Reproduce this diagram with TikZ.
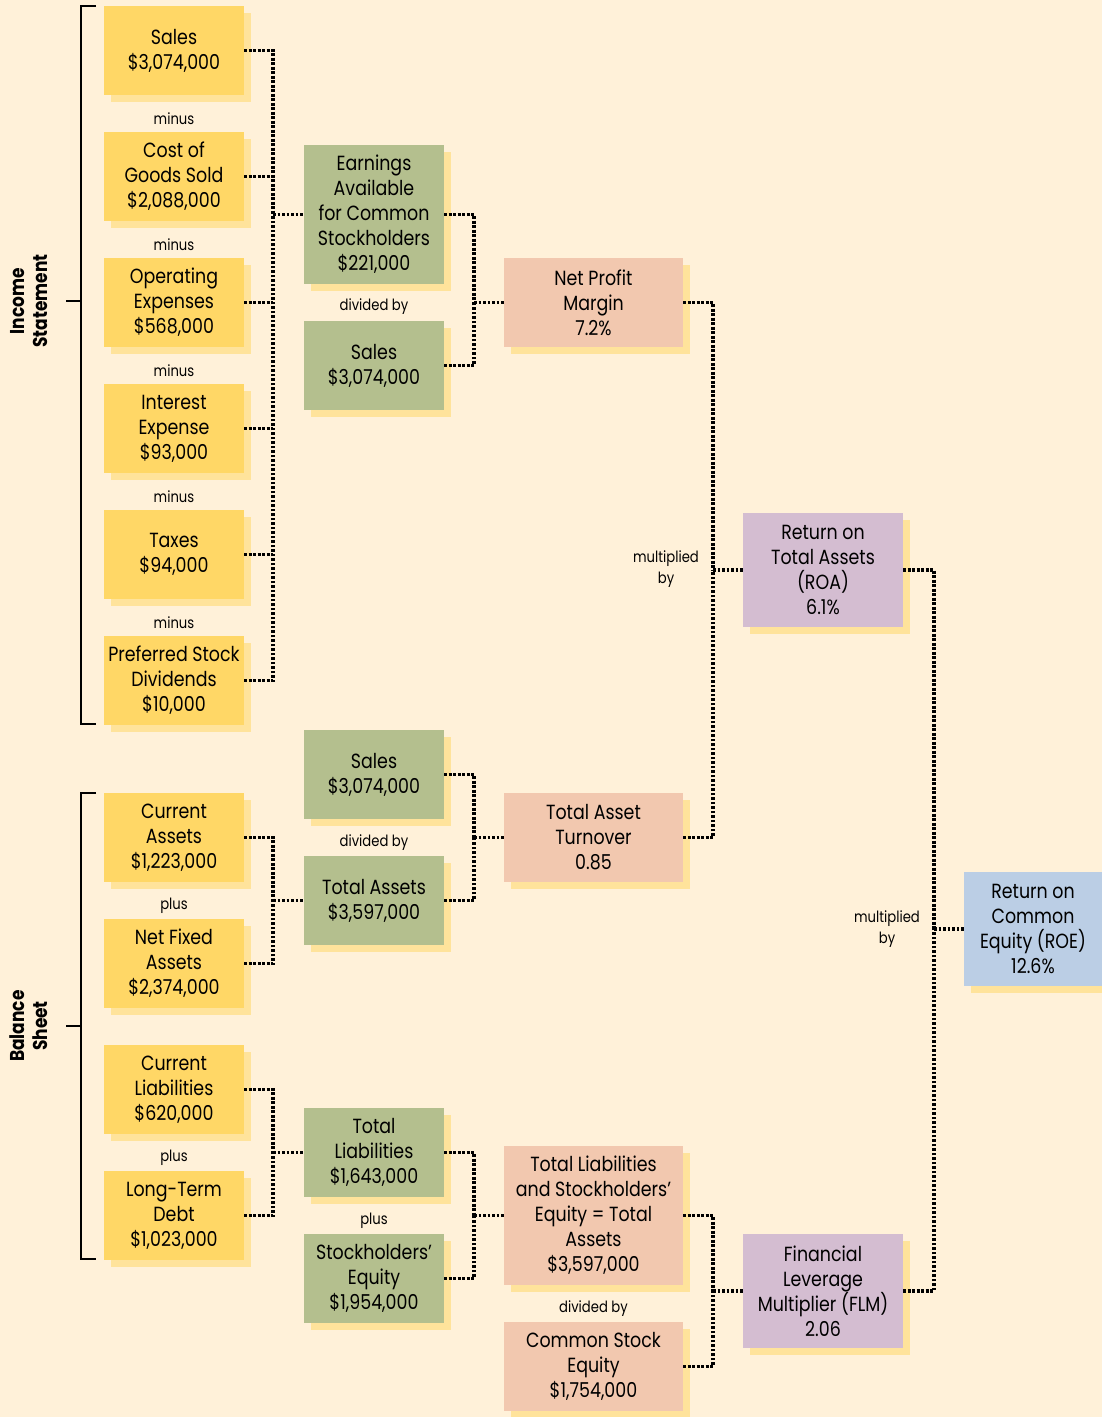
\documentclass[tikz,border=0pt]{standalone}
\usepackage{fontspec}
\setmainfont{Poppins}[FakeStretch=0.85]
\usetikzlibrary{shadows}
\definecolor{bgcream}{HTML}{FFF1D9}
\definecolor{boxyel}{HTML}{FFD766}
\definecolor{shyel}{HTML}{FFE39B}
\definecolor{boxgrn}{HTML}{B4BF8E}
\definecolor{boxsal}{HTML}{F2C8AF}
\definecolor{boxpur}{HTML}{D4BDD1}
\definecolor{boxblu}{HTML}{BBCEE5}

\begin{document}
\begin{tikzpicture}[x=1pt,y=-1pt,
    box/.style   = {inner sep=0pt, align=center,
      font=\fontsize{20.5}{25}\selectfont,
      drop shadow={fill=shyel, opacity=1,
        shadow xshift=7pt, shadow yshift=-7pt}},
    ybox/.style  = {box, fill=boxyel, minimum width=140pt, minimum height=89pt},
    gbox/.style  = {box, fill=boxgrn, minimum width=140pt, minimum height=89pt},
    sbox/.style  = {box, fill=boxsal, minimum width=179pt, minimum height=89pt},
    pbox/.style  = {box, fill=boxpur, minimum width=160pt, minimum height=114pt},
    bbox/.style  = {box, fill=boxblu, minimum width=138pt, minimum height=114pt},
    oplabel/.style = {inner sep=0pt, align=center, font=\fontsize{15.5}{21}\selectfont},
    sidelabel/.style = {inner sep=0pt, align=center, rotate=90,
      font=\fontsize{20}{23}\selectfont\bfseries},
    dotline/.style = {line width=3.4pt, dash pattern=on 2.8pt off 1.7pt},
    bracket/.style = {line width=1.1pt},
  ]
  \useasboundingbox[fill=bgcream] (0,0) rectangle (1102,1417);

  % income statement column
  \node[ybox] (sales)   at (174,50.5)  {Sales\\\$3,074,000};
  \node[ybox] (cogs)    at (174,176.5) {Cost of\\Goods Sold\\\$2,088,000};
  \node[ybox] (opex)    at (174,302.5) {Operating\\Expenses\\\$568,000};
  \node[ybox] (intexp)  at (174,428.5) {Interest\\Expense\\\$93,000};
  \node[ybox] (taxes)   at (174,554.5) {Taxes\\\$94,000};
  \node[ybox] (prefdiv) at (174,680.5) {Preferred Stock\\Dividends\\\$10,000};
  \foreach \y in {119,245,371,497,623}
    \node[oplabel] at (174,\y) {minus};

  % balance sheet column
  \node[ybox] (curassets) at (174,837.5)  {Current\\Assets\\\$1,223,000};
  \node[ybox] (netfixed)  at (174,963.5)  {Net Fixed\\Assets\\\$2,374,000};
  \node[ybox] (curliab)   at (174,1089.5) {Current\\Liabilities\\\$620,000};
  \node[ybox] (ltdebt)    at (174,1215.5) {Long-Term\\Debt\\\$1,023,000};
  \node[oplabel] (plus1) at (174,906)  {plus};
  \node[oplabel] (plus2) at (174,1158) {plus};

  % second column
  \node[gbox, minimum height=139pt] (eacs) at (374,214.5)
    {Earnings\\Available\\for Common\\Stockholders\\\$221,000};
  \node[gbox] (sales2)    at (374,365.5)  {Sales\\\$3,074,000};
  \node[gbox] (sales3)    at (374,774.5)  {Sales\\\$3,074,000};
  \node[gbox] (totassets) at (374,900.5)  {Total Assets\\\$3,597,000};
  \node[gbox] (totliab)   at (374,1152.5) {Total\\Liabilities\\\$1,643,000};
  \node[gbox] (stockeq)   at (374,1278.5) {Stockholders'\\Equity\\\$1,954,000};
  \node[oplabel] (div1) at (374,307)  {divided by};
  \node[oplabel] (div2) at (374,843)  {divided by};
  \node[oplabel] (plus3) at (374,1221) {plus};

  % third column
  \node[sbox] (npm) at (593.5,302.5) {Net Profit\\Margin\\7.2\%};
  \node[sbox] (tat) at (593.5,837.5) {Total Asset\\Turnover\\0.85};
  \node[sbox, minimum height=139pt] (tlse) at (593.5,1215.5)
    {Total Liabilities\\and Stockholders'\\Equity = Total\\Assets\\\$3,597,000};
  \node[sbox] (cse) at (593.5,1366.5) {Common Stock\\Equity\\\$1,754,000};
  \node[oplabel] (div3) at (593.5,1309) {divided by};

  % ratios
  \node[pbox] (roa) at (823,570)  {Return on\\Total Assets\\(ROA)\\6.1\%};
  \node[pbox] (flm) at (823,1291) {Financial\\Leverage\\Multiplier (FLM)\\2.06};
  \node[bbox] (roe) at (1033,929) {Return on\\Common\\Equity (ROE)\\12.6\%};
  \node[oplabel] (mult1) at (666,569) {multiplied\\by};
  \node[oplabel] (mult2) at (887,929) {multiplied\\by};

  % side brackets
  \draw[bracket] (96,6) -- (81,6) -- (81,724) -- (96,724);
  \draw[bracket] (66,301) -- (81,301);
  \node[sidelabel] (islabel) at (29,301) {Income\\Statement};
  \draw[bracket] (96,793) -- (81,793) -- (81,1259) -- (96,1259);
  \draw[bracket] (66,1026) -- (81,1026);
  \node[sidelabel] (bslabel) at (29,1026) {Balance\\Sheet};

  % bus points
  \coordinate (isbus)   at (273,214.5);
  \coordinate (npmbus)  at (474,302.5);
  \coordinate (tabus)   at (273,900.5);
  \coordinate (tatbus)  at (474,837.5);
  \coordinate (tlbus)   at (273,1152.5);
  \coordinate (tlsebus) at (474,1215.5);
  \coordinate (roabus)  at (713,570);
  \coordinate (flmbus)  at (713,1291);
  \coordinate (roebus)  at (934,929);

  % connectors
  \draw[dotline] (sales.east) -| (isbus);
  \draw[dotline] (prefdiv.east) -| (isbus);
  \foreach \n in {cogs,opex,intexp,taxes}
    \draw[dotline] (\n.east) -- (\n.east -| isbus);
  \draw[dotline] (isbus) -- (eacs.west);

  \draw[dotline] (eacs.east) -| (npmbus);
  \draw[dotline] (sales2.east) -| (npmbus);
  \draw[dotline] (npmbus) -- (npm.west);

  \draw[dotline] (curassets.east) -| (tabus);
  \draw[dotline] (netfixed.east) -| (tabus);
  \draw[dotline] (tabus) -- (totassets.west);

  \draw[dotline] (sales3.east) -| (tatbus);
  \draw[dotline] (totassets.east) -| (tatbus);
  \draw[dotline] (tatbus) -- (tat.west);

  \draw[dotline] (curliab.east) -| (tlbus);
  \draw[dotline] (ltdebt.east) -| (tlbus);
  \draw[dotline] (tlbus) -- (totliab.west);

  \draw[dotline] (totliab.east) -| (tlsebus);
  \draw[dotline] (stockeq.east) -| (tlsebus);
  \draw[dotline] (tlsebus) -- (tlse.west);

  \draw[dotline] (npm.east) -| (roabus);
  \draw[dotline] (tat.east) -| (roabus);
  \draw[dotline] (roabus) -- (roa.west);

  \draw[dotline] (tlse.east) -| (flmbus);
  \draw[dotline] (cse.east) -| (flmbus);
  \draw[dotline] (flmbus) -- (flm.west);

  \draw[dotline] (roa.east) -| (roebus);
  \draw[dotline] (flm.east) -| (roebus);
  \draw[dotline] (roebus) -- (roe.west);
\end{tikzpicture}
\end{document}
